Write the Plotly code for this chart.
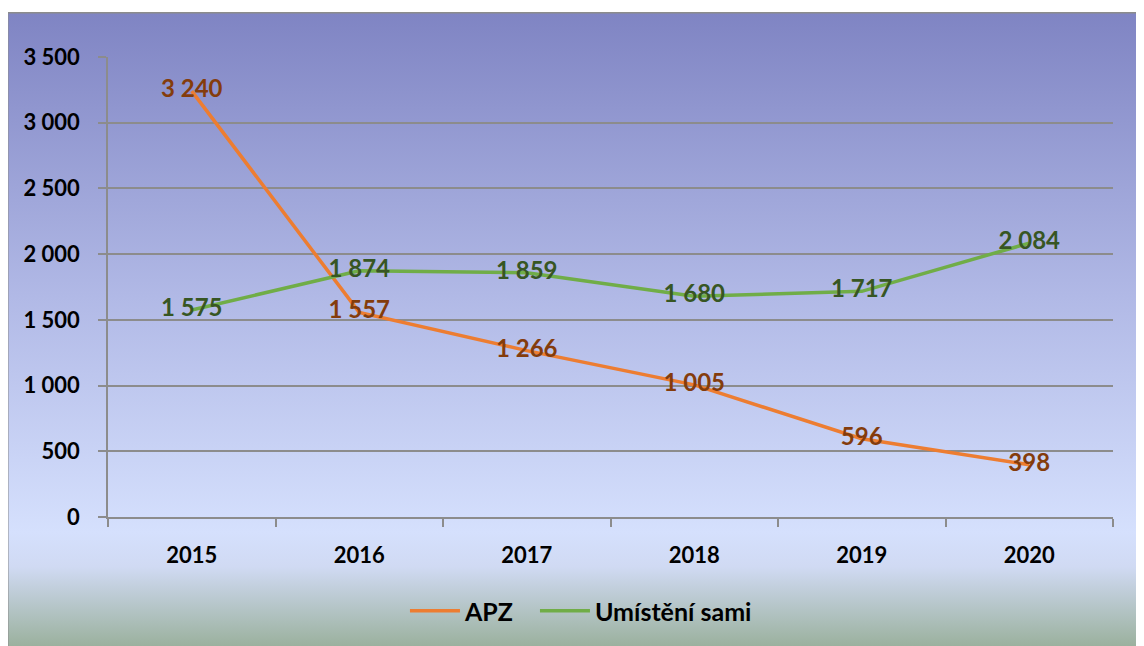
import plotly.graph_objects as go
import urllib.parse

years = ["2015", "2016", "2017", "2018", "2019", "2020"]
apz = [3240, 1557, 1266, 1005, 596, 398]
umisteni = [1575, 1874, 1859, 1680, 1717, 2084]
series_names = ["APZ", "Umístění sami"]

def fmt(v):
    return "<b>" + f"{v:,}".replace(",", " ") + "</b>"

FONT = "Lato"

fig = go.Figure()
fig.add_trace(go.Scatter(
    x=years, y=apz, name=series_names[0], mode="lines+text",
    line=dict(color="#ED7D31", width=3.5),
    text=[fmt(v) for v in apz], textposition="middle center",
    textfont=dict(family=FONT, size=24, color="#843C0C", weight="bold"),
    legend="legend",
))
fig.add_trace(go.Scatter(
    x=years, y=umisteni, name=series_names[1], mode="lines+text",
    line=dict(color="#70AD47", width=3.5),
    text=[fmt(v) for v in umisteni], textposition="middle center",
    textfont=dict(family=FONT, size=24, color="#375623", weight="bold"),
    legend="legend2",
))

# page is offset by 8px body margin
OFF = 8
FW, FH = 1144 - OFF, 646 - OFF

svg = (
    '<svg xmlns="http://www.w3.org/2000/svg" width="1137" height="634" preserveAspectRatio="none">'
    '<defs><linearGradient id="g" x1="0" y1="0" x2="0" y2="1">'
    '<stop offset="0" stop-color="#7f84c3"/>'
    '<stop offset="0.45" stop-color="#b1b9e6"/>'
    '<stop offset="0.82" stop-color="#d5e0fd"/>'
    '<stop offset="0.875" stop-color="#d0daf3"/>'
    '<stop offset="1" stop-color="#9bb19e"/>'
    '</linearGradient></defs>'
    '<rect x="0" y="0" width="1137" height="634" fill="url(#g)"/>'
    '<line x1="0" y1="0.75" x2="1137" y2="0.75" stroke="#8c8c8c" stroke-width="1.5"/>'
    '<line x1="0.75" y1="0" x2="0.75" y2="634" stroke="#8c8c8c" stroke-width="1.5"/>'
    '</svg>'
)
src = "data:image/svg+xml;charset=utf-8," + urllib.parse.quote(svg)

# reference page coordinates
L, R, T, B = 108, 1113, 57, 517
W, H = R - L, B - T
def px(x):
    return (x - L) / W
def py(y):
    return (B - y) / H

fig.add_layout_image(dict(
    source=src, xref="paper", yref="paper",
    x=px(7), y=py(12), sizex=px(1144) - px(7), sizey=py(12) - py(646),
    xanchor="left", yanchor="top", sizing="stretch", layer="below",
))

legend_style = dict(orientation="h", y=py(611), xanchor="left", yanchor="middle",
                    font=dict(family=FONT, size=25, color="black", weight="bold"),
                    bgcolor="rgba(0,0,0,0)", itemwidth=50)

fig.update_layout(
    width=FW, height=FH,
    margin=dict(l=L - OFF, r=1144 - R, t=T - OFF, b=646 - B, autoexpand=False),
    paper_bgcolor="white", plot_bgcolor="rgba(0,0,0,0)",
    separators=", ",
    font=dict(family=FONT, size=22, color="black"),
    showlegend=True,
    legend=dict(x=px(413) - 0.008, **legend_style),
    legend2=dict(x=px(543) - 0.008, **legend_style),
)
fig.update_xaxes(
    type="category", range=[-0.5, 5.5], tickson="boundaries",
    showgrid=False, showline=True, linecolor="#8c8c8c", linewidth=1.5,
    ticks="outside", ticklen=8, tickcolor="#8c8c8c", tickwidth=1.5,
    tickfont=dict(family=FONT, size=22, color="black", weight="bold"),
    ticklabelstandoff=18,
)
fig.update_yaxes(
    range=[0, 3500], dtick=500, tick0=0, tickformat=",d",
    showgrid=True, gridcolor="#8c8c8c", gridwidth=1.5,
    showline=True, linecolor="#8c8c8c", linewidth=1.5,
    ticks="outside", ticklen=8, tickcolor="#8c8c8c", tickwidth=1.5,
    tickfont=dict(family=FONT, size=22, color="black", weight="bold"),
    ticklabelstandoff=14, zeroline=False,
)

fig.write_html("out.html")
